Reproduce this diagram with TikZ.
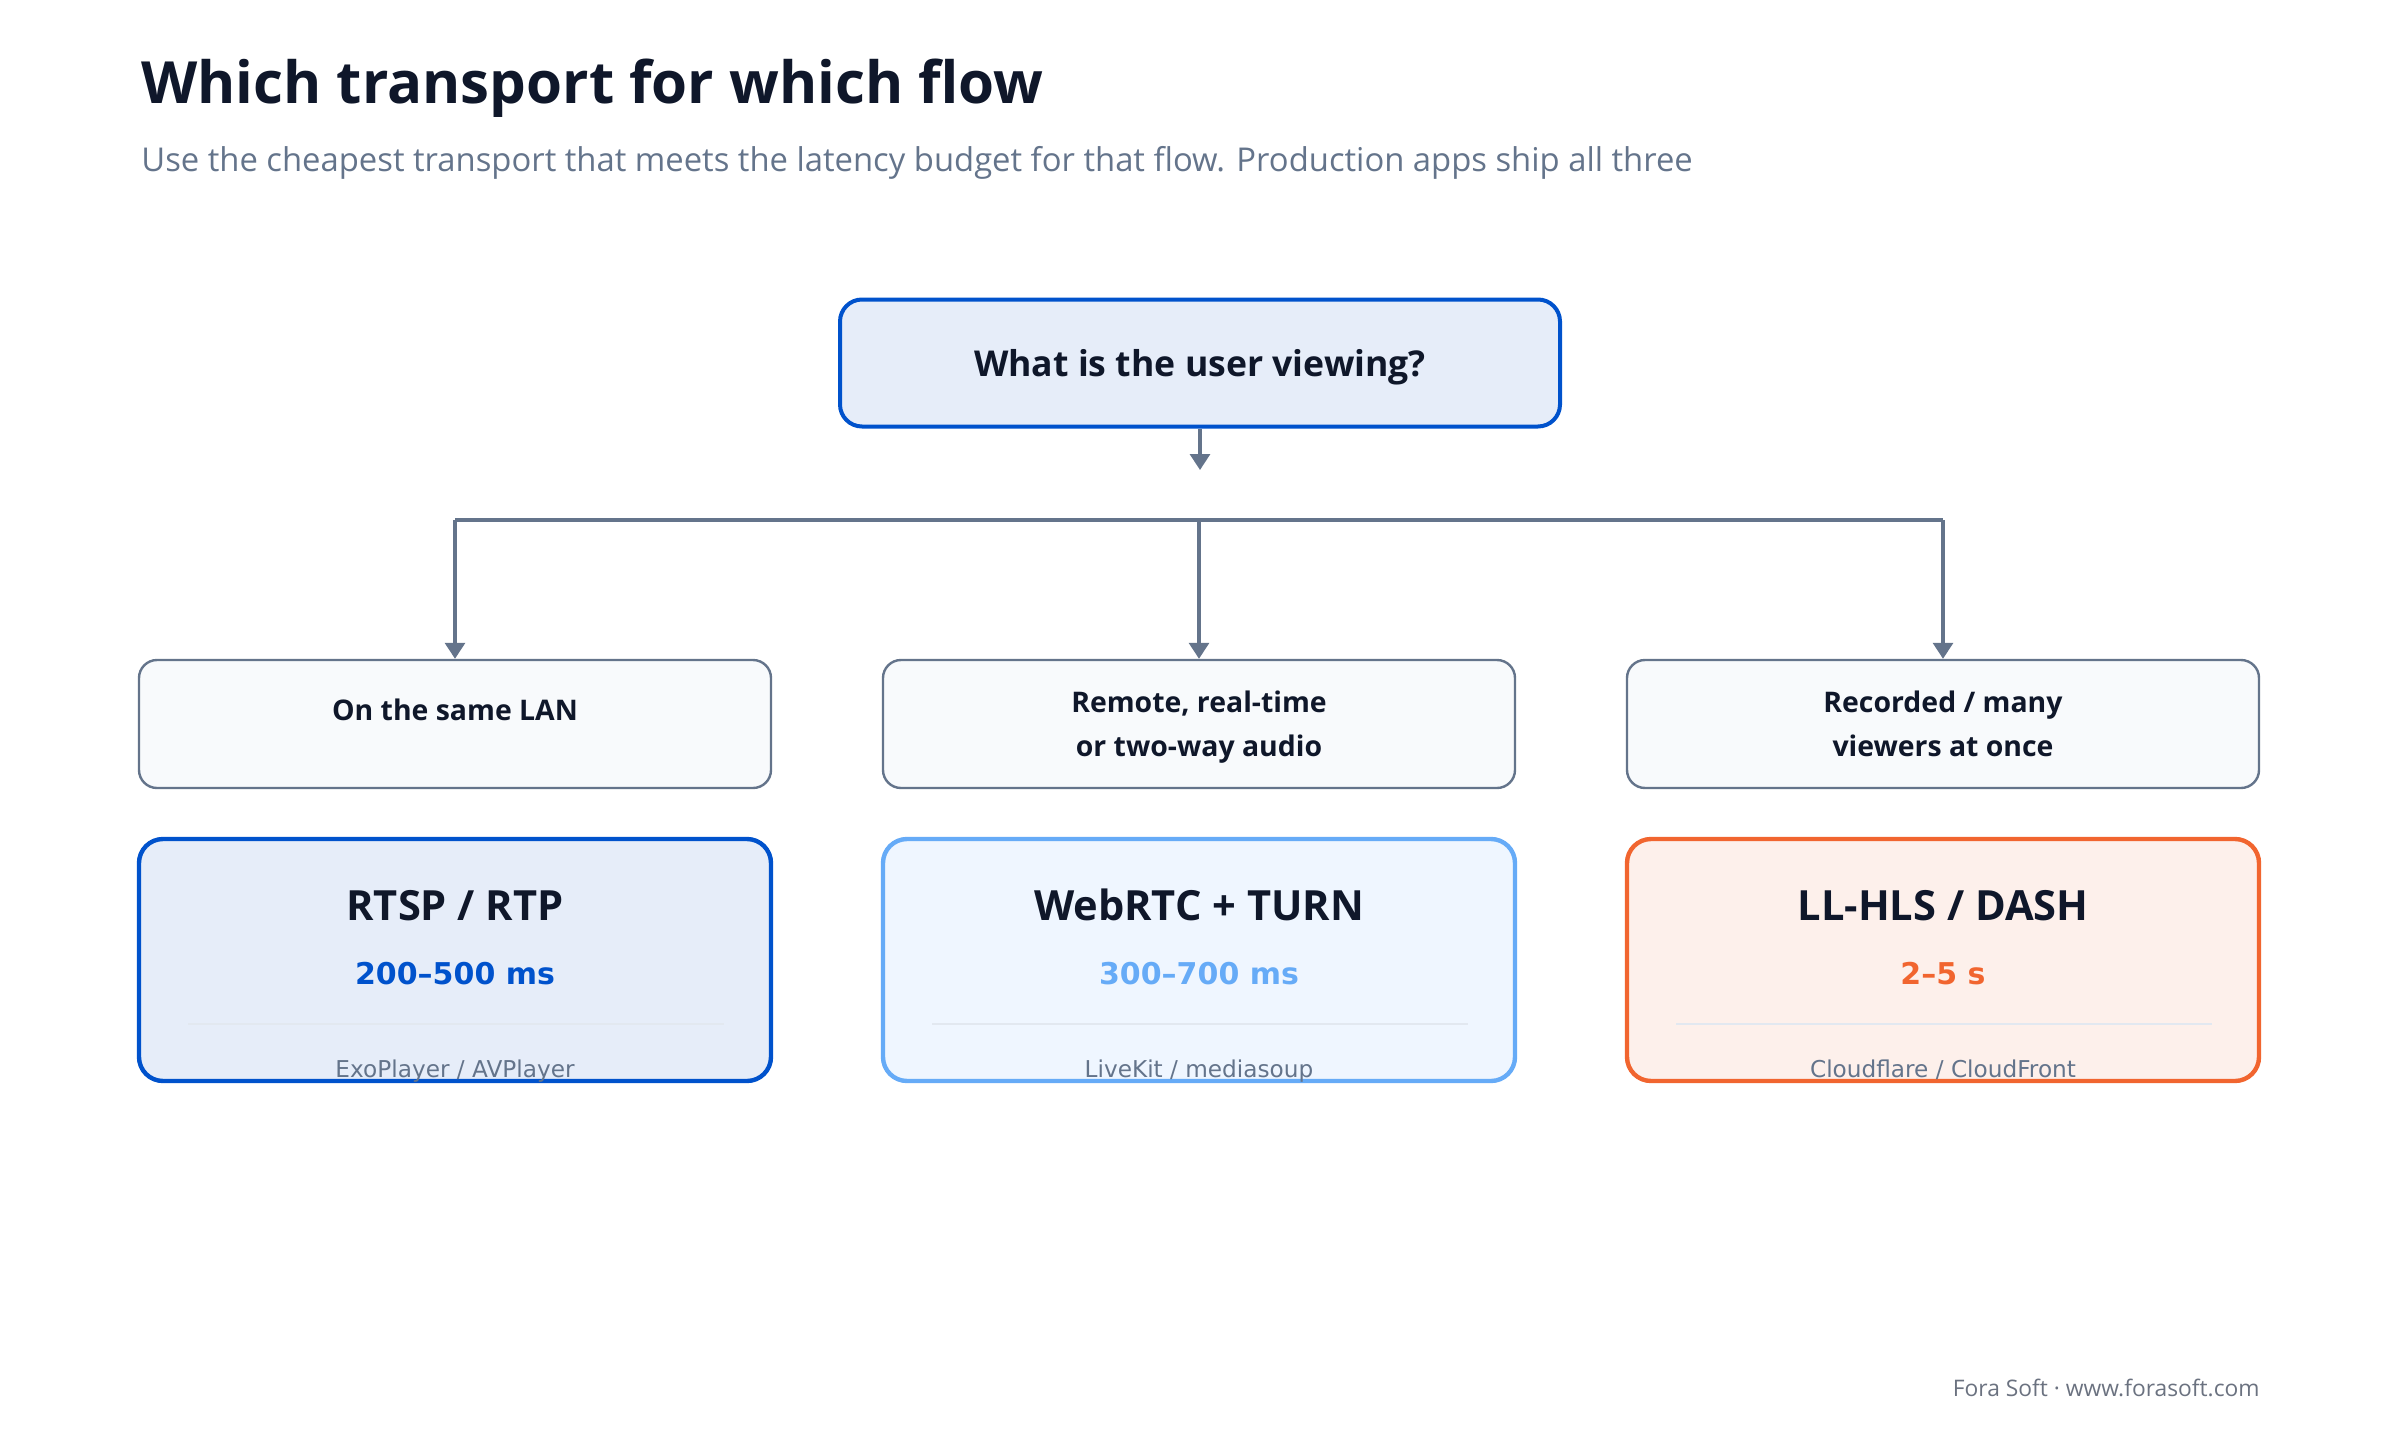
\documentclass[tikz,border=0pt]{standalone}
\usepackage{fontspec}
\setmainfont{Open Sans}
\newfontfamily\dejavu{DejaVu Sans}
\usetikzlibrary{positioning,arrows.meta}

\definecolor{ink}{HTML}{0F172A}
\definecolor{slate}{HTML}{64748B}
\definecolor{greytxt}{HTML}{6B7280}
\definecolor{qfill}{HTML}{E6EDF9}
\definecolor{deepblue}{HTML}{0052CC}
\definecolor{skyblue}{HTML}{66ABF7}
\definecolor{skyfill}{HTML}{EFF6FF}
\definecolor{flame}{HTML}{F1652F}
\definecolor{flamefill}{HTML}{FDF0EB}
\definecolor{midfill}{HTML}{F8FAFC}
\definecolor{rulegrey}{HTML}{E2E8F0}

\tikzset{
  txt/.style={inner sep=0pt, anchor=base, text=ink},
  choice/.style={draw=slate, fill=midfill, line width=1.2pt, rounded corners=9pt,
    minimum width=316pt, minimum height=64pt},
  pick/.style={line width=2.2pt, rounded corners=12pt,
    minimum width=316pt, minimum height=121pt},
  link/.style={draw=slate, line width=1.6pt},
  tip/.style={-{Triangle[width=10pt,length=8pt]}},
  sepline/.style={draw=rulegrey, line width=1pt},
}

\begin{document}
\begin{tikzpicture}[x=0.5pt, y=-0.5pt]
    \useasboundingbox (0,0) rectangle (2400,1440);

    % title
    \node[txt, anchor=base west, font=\fontsize{29.1}{34}\selectfont\bfseries] (title) at (141,103) {Which transport for which flow};
    \node[txt, anchor=base west, text=slate, font=\fontsize{16.4}{20}\selectfont] (subtitle) at (141,171) {Use the cheapest transport that meets the latency budget for that flow. Production apps ship all three};

    % question
    \node[draw=deepblue, fill=qfill, line width=2pt, rounded corners=11pt, minimum width=360pt, minimum height=63.5pt] (qbox) at (1200,363) {};
    \node[txt, font=\fontsize{17.8}{22}\selectfont\bfseries] (q) at (1200,376) {What is the user viewing?};

    % middle row
    \node[choice] (lanbox) at (455,724) {};
    \node[choice] (rtbox) at (1199,724) {};
    \node[choice] (recbox) at (1943,724) {};
    \node[txt, font=\fontsize{14.2}{17}\selectfont\bfseries] (lan) at (455,720) {On the same LAN};
    \node[txt, font=\fontsize{14.2}{17}\selectfont\bfseries] (rt1) at (1199,712) {Remote, real-time};
    \node[txt, font=\fontsize{14.2}{17}\selectfont\bfseries] (rt2) at (1199,756) {or two-way audio};
    \node[txt, font=\fontsize{14.2}{17}\selectfont\bfseries] (rec1) at (1943,712) {Recorded / many};
    \node[txt, font=\fontsize{14.2}{17}\selectfont\bfseries] (rec2) at (1943,756) {viewers at once};

    % connectors
    \coordinate (qend) at (1200,470);
    \coordinate (busL) at (455,520);
    \coordinate (busM) at (1199,520);
    \coordinate (busR) at (1943,520);
    \draw[link, tip] (qbox.south) -- (qend);
    \draw[link] (busL) -- (busR);
    \draw[link, tip] (busL) -- (lanbox.north);
    \draw[link, tip] (busM) -- (rtbox.north);
    \draw[link, tip] (busR) -- (recbox.north);

    % bottom row
    \node[pick, draw=deepblue, fill=qfill] (rtspbox) at (455,960) {};
    \node[pick, draw=skyblue, fill=skyfill] (webrtcbox) at (1199,960) {};
    \node[pick, draw=flame, fill=flamefill] (hlsbox) at (1943,960) {};

    \draw[sepline] (188,1024) -- (724,1024);
    \draw[sepline] (932,1024) -- (1468,1024);
    \draw[sepline] (1676,1024) -- (2212,1024);

    \node[txt, font=\fontsize{20.8}{24}\selectfont\bfseries] (rtsp) at (455,920) {RTSP / RTP};
    \node[txt, font=\fontsize{20.8}{24}\selectfont\bfseries] (webrtc) at (1199,920) {WebRTC + TURN};
    \node[txt, font=\fontsize{20.8}{24}\selectfont\bfseries] (hls) at (1943,920) {LL-HLS / DASH};

    \node[txt, text=deepblue, font=\dejavu\fontsize{15}{18}\selectfont\bfseries] (rtspms) at (455,984) {200–500 ms};
    \node[txt, text=skyblue, font=\dejavu\fontsize{15}{18}\selectfont\bfseries] (webrtcms) at (1199,984) {300–700 ms};
    \node[txt, text=flame, font=\dejavu\fontsize{15}{18}\selectfont\bfseries] (hlsms) at (1943,984) {2–5 s};

    \node[txt, text=slate, font=\dejavu\fontsize{11.6}{14}\selectfont] (rtsptool) at (455,1077) {ExoPlayer / AVPlayer};
    \node[txt, text=slate, font=\dejavu\fontsize{11.6}{14}\selectfont] (webrtctool) at (1199,1077) {LiveKit / mediasoup};
    \node[txt, text=slate, font=\dejavu\fontsize{11.6}{14}\selectfont] (hlstool) at (1943,1077) {Cloudflare / CloudFront};

    % footer
    \node[txt, anchor=base east, text=greytxt, font=\fontsize{11.4}{14}\selectfont] (footer) at (2260,1396) {Fora Soft · www.forasoft.com};
\end{tikzpicture}
\end{document}
